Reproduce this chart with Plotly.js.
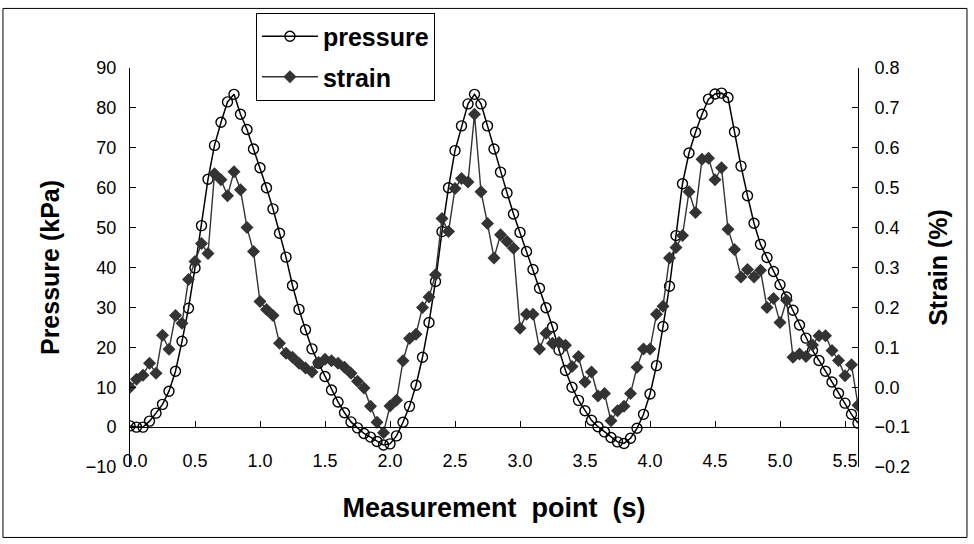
<!DOCTYPE html>
<html><head><meta charset="utf-8">
<script src="https://cdn.plot.ly/plotly-3.0.1.min.js"></script>
<style>html,body{margin:0;padding:0;background:#fff}#chart{width:974px;height:544px}</style>
</head><body><div id="chart"></div>
<script>
// Measurement time (s)
const time = [0,0.05,0.1,0.15,0.2,0.25,0.3,0.35,0.4,0.45,0.5,0.55,0.6,0.65,0.7,0.75,0.8,0.85,0.9,0.95,
  1,1.05,1.1,1.15,1.2,1.25,1.3,1.35,1.4,1.45,1.5,1.55,1.6,1.65,1.7,1.75,1.8,1.85,1.9,1.95,
  2,2.05,2.1,2.15,2.2,2.25,2.3,2.35,2.4,2.45,2.5,2.55,2.6,2.65,2.7,2.75,2.8,2.85,2.9,2.95,
  3,3.05,3.1,3.15,3.2,3.25,3.3,3.35,3.4,3.45,3.5,3.55,3.6,3.65,3.7,3.75,3.8,3.85,3.9,3.95,
  4,4.05,4.1,4.15,4.2,4.25,4.3,4.35,4.4,4.45,4.5,4.55,4.6,4.65,4.7,4.75,4.8,4.85,4.9,4.95,
  5,5.05,5.1,5.15,5.2,5.25,5.3,5.35,5.4,5.45,5.5,5.55,5.6];
// Pressure (kPa)
const pressure = [0.3,0,0,1.5,3.5,5.7,9.0,14.0,21.5,29.8,
  39.9,50.5,62.1,70.6,76.4,81.5,83.4,78.4,74.6,69.7,
  65.0,60.0,54.7,48.6,42.6,35.5,29.5,24.4,19.6,16.0,
  12.7,9.3,6.3,3.6,1.3,-0.2,-1.6,-2.5,-3.6,-4.5,
  -4.2,-2.2,1.2,5.2,10.5,17.5,26.2,36.5,49.0,60.0,
  69.3,75.5,81.0,83.4,81.0,75.5,69.7,63.9,58.7,53.4,
  48.8,44.0,39.5,34.8,29.9,25.1,19.3,14.2,10.0,6.7,
  4.1,1.7,0.1,-1.2,-2.6,-3.7,-4.1,-2.8,-0.3,3.2,
  8.3,15.4,25.2,35.3,48.0,61.0,68.7,73.9,78.4,82.2,
  83.5,83.7,82.6,74.0,65.4,58.0,51.1,45.8,42.5,39.0,
  35.7,32.6,29.3,25.6,22.3,19.2,16.7,14.0,11.3,8.5,
  6.0,3.2,1.0];
// Strain (%)
const strain = [0.00,0.02,0.03,0.06,0.035,0.13,0.095,0.18,0.16,0.27,
  0.315,0.36,0.335,0.535,0.52,0.48,0.54,0.495,0.40,0.34,
  0.215,0.195,0.18,0.11,0.085,0.075,0.06,0.048,0.038,0.062,
  0.07,0.066,0.06,0.05,0.035,0.015,-0.002,-0.048,-0.088,-0.114,
  -0.047,-0.033,0.066,0.122,0.133,0.20,0.226,0.282,0.423,0.39,
  0.498,0.523,0.514,0.684,0.49,0.41,0.324,0.382,0.365,0.348,
  0.148,0.183,0.183,0.096,0.135,0.11,0.112,0.105,0.052,0.077,
  0.013,0.038,-0.022,-0.016,-0.084,-0.059,-0.048,-0.016,0.05,0.096,
  0.096,0.183,0.203,0.324,0.35,0.38,0.49,0.438,0.571,0.574,
  0.52,0.55,0.396,0.345,0.276,0.295,0.276,0.293,0.20,0.222,
  0.162,0.218,0.075,0.083,0.077,0.106,0.129,0.129,0.092,0.067,
  0.029,0.056,-0.045];
const xTickVals = [0,0.5,1,1.5,2,2.5,3,3.5,4,4.5,5,5.5];
const xTickText = ['\u00a0\u00a00.0','0.5','1.0','1.5','2.0','2.5','3.0','3.5','4.0','4.5','5.0','5.5'];
const seriesNames = ['pressure','strain'];

const FONT = 'Arial, "Liberation Sans", sans-serif';

const traces = [
  {x: time, y: pressure, name: '<b>' + seriesNames[0] + '</b>', type: 'scatter', mode: 'lines+markers',
   xaxis: 'x', yaxis: 'y', legendgroup: 'a',
   line: {color: '#000', width: 1.5},
   marker: {symbol: 'circle-open', size: 10, color: '#000', line: {color: '#000', width: 1.4}}},
  {x: time, y: strain, name: '<b>' + seriesNames[1] + '</b>', type: 'scatter', mode: 'lines+markers',
   xaxis: 'x', yaxis: 'y2', legendgroup: 'b',
   line: {color: '#333', width: 1.4},
   marker: {symbol: 'diamond', size: 10, color: '#333', line: {width: 0}}}
];

const axisCommon = {showgrid: false, zeroline: false, color: '#000', tickcolor: '#000', linecolor: '#000', linewidth: 1};

const layout = {
  width: 974, height: 544,
  margin: {l: 130, r: 116, t: 65, b: 77, pad: 0},
  paper_bgcolor: '#fff', plot_bgcolor: '#fff',
  font: {family: FONT, size: 18, color: '#000'},
  showlegend: true,
  legend: {x: 0.173, y: 1.139, xanchor: 'left', yanchor: 'top', bordercolor: '#000', borderwidth: 1,
           bgcolor: '#fff', font: {size: 25, family: FONT}, itemwidth: 56, tracegroupgap: 5, traceorder: 'grouped'},
  xaxis: Object.assign({}, axisCommon, {
    range: [0, 5.6], tickmode: 'array', tickvals: xTickVals, ticktext: xTickText,
    anchor: 'free', position: 0.1, showline: true, ticks: 'inside', ticklen: 6, ticklabelstandoff: 17,
    title: {text: 'Measurement  point  (s)', font: {size: 27, weight: 'bold', family: FONT}, standoff: 28}
  }),
  yaxis: Object.assign({}, axisCommon, {
    range: [-10, 90], dtick: 10, tick0: 0, showline: true, ticks: 'inside', ticklen: 6, ticklabelstandoff: 9,
    anchor: 'x',
    title: {text: 'Pressure (kPa)', font: {size: 25, weight: 'bold', family: FONT}, standoff: 19}
  }),
  yaxis2: Object.assign({}, axisCommon, {
    range: [-0.2, 0.8], dtick: 0.1, tick0: 0, tickformat: '.1f', overlaying: 'y', side: 'right', anchor: 'x',
    showline: true, ticks: 'inside', ticklen: 6, ticklabelstandoff: 12,
    title: {text: 'Strain (%)', font: {size: 25, weight: 'bold', family: FONT}, standoff: 20}
  }),
  shapes: [{type: 'rect', xref: 'paper', yref: 'paper', x0: -0.1745, x1: 1.1497, y0: -0.1766, y1: 1.1493,
            line: {color: '#000', width: 1}, fillcolor: 'rgba(0,0,0,0)', layer: 'below'}]
};

Plotly.newPlot('chart', traces, layout, {displayModeBar: false, staticPlot: true});
</script>
</body></html>
